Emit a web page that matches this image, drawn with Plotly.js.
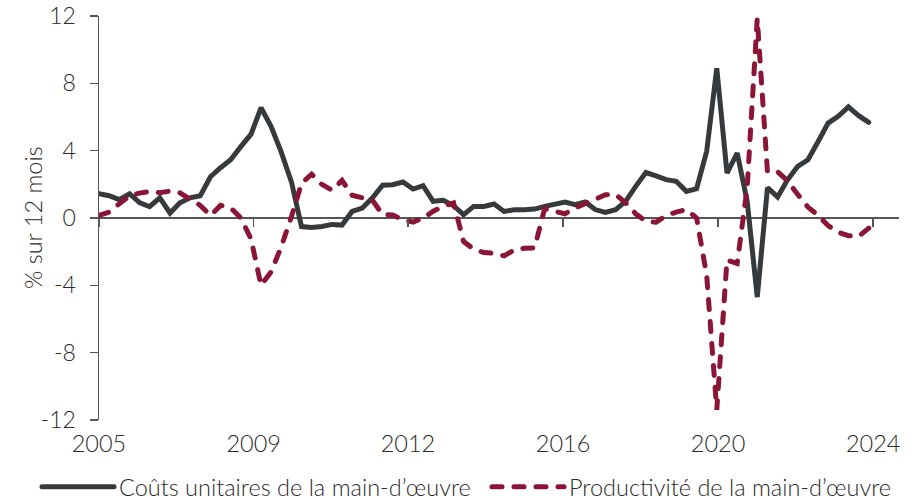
<!DOCTYPE html>
<html>
<head>
<meta charset="utf-8">
<script src="https://cdn.plot.ly/plotly-3.0.1.min.js"></script>
<style>
  html, body { margin: 0; padding: 0; background: #fff; }
  #chart { width: 922px; height: 503px; }
</style>
</head>
<body>
<div id="chart"></div>
<script>
// Quarterly data, 2005T1 – 2024T1 (% sur 12 mois)
const firstYear = 2005;
const seriesNames = ["Coûts unitaires de la main-d\u2019œuvre", "Productivité de la main-d\u2019œuvre"];
const yTitle = "% sur 12 mois";

const coutsUnitaires = [
  1.44, 1.32, 1.09, 1.44, 0.91, 0.67, 1.2, 0.3, 0.9, 1.2,
  1.32, 2.45, 2.99, 3.46, 4.24, 4.98, 6.55, 5.43, 3.9, 2.12,
  -0.51, -0.56, -0.5, -0.38, -0.42, 0.39, 0.59, 1.2, 1.95, 1.98,
  2.14, 1.72, 1.92, 0.99, 1.05, 0.73, 0.2, 0.69, 0.69, 0.83,
  0.39, 0.49, 0.49, 0.53, 0.69, 0.79, 0.95, 0.79, 0.95, 0.5,
  0.33, 0.49, 0.99, 1.88, 2.7, 2.5, 2.28, 2.18, 1.58, 1.74,
  3.96, 8.9, 2.67, 3.86, 1.0, -4.7, 1.8, 1.25, 2.28, 3.07,
  3.46, 4.55, 5.64, 6.04, 6.6, 6.08, 5.68
];

const productivite = [
  0.15, 0.35, 0.85, 1.3, 1.48, 1.58, 1.5, 1.6, 1.5, 1.15,
  0.75, 0.15, 0.75, 0.6, 0.0, -1.25, -4.0, -3.2, -1.7, 0.1,
  2.05, 2.6, 2.0, 1.65, 2.23, 1.35, 1.2, 1.05, 0.2, 0.18,
  -0.1, -0.25, 0.0, 0.4, 0.7, 0.9, -1.4, -1.85, -2.05, -2.1,
  -2.25, -1.9, -1.8, -1.78, 0.55, 0.4, 0.25, 0.6, 0.85, 1.15,
  1.38, 1.4, 0.9, 0.25, -0.2, -0.25, 0.15, 0.35, 0.5, 0.0,
  -3.4, -11.4, -2.5, -2.7, 1.8, 11.85, 2.75, 2.75, 2.2, 1.4,
  0.65, 0.15, -0.45, -0.85, -1.05, -1.1, -0.6
];

const tickLabels = ["2005", "2009", "2012", "2016", "2020", "2024"];
const tickDates = ["2005-03-31", "2009-01-24", "2012-11-15", "2016-09-13", "2020-07-12", "2024-05-10"];
const yTicks = [-12, -8, -4, 0, 4, 8, 12];
const yTickLabels = ["-12", "-8", "-4", "0", "4", "8", "12"];

// quarter-end dates for the x categories
const quarterEnds = ["03-31", "06-30", "09-30", "12-31"];
const dates = coutsUnitaires.map((_, i) =>
  (firstYear + Math.floor(i / 4)) + "-" + quarterEnds[i % 4]);

const FONT = "Lato, 'Open Sans', sans-serif";
const TXT = "#2b2b2b";
const AX = "#555555";
const xRange = ["2005-03-31", "2024-12-29"];
const f = (s) => ({ family: FONT, size: s, color: TXT, weight: 300 });

const traces = [
  {
    x: dates, y: coutsUnitaires, name: seriesNames[0],
    type: "scatter", mode: "lines",
    line: { color: "#363a3d", width: 5 },
    xaxis: "x", yaxis: "y", hoverinfo: "skip", legend: "legend"
  },
  {
    x: dates, y: productivite, name: seriesNames[1],
    type: "scatter", mode: "lines",
    line: { color: "#8a1536", width: 5, dash: "10px,12px" },
    xaxis: "x2", yaxis: "y", hoverinfo: "skip", legend: "legend2"
  }
];

const legendBase = {
  orientation: "h", xref: "container", yref: "container", xanchor: "left", yanchor: "middle",
  y: 1 - 487 / 503, font: f(23.5), itemwidth: 72, bgcolor: "rgba(0,0,0,0)", borderwidth: 0
};

const layout = {
  width: 922, height: 503,
  margin: { l: 99, r: 23, t: 16, b: 83, autoexpand: false },
  paper_bgcolor: "#ffffff", plot_bgcolor: "#ffffff",
  font: f(23.5),
  showlegend: true,
  legend: Object.assign({}, legendBase, { x: 37 / 922 }),
  legend2: Object.assign({}, legendBase, { x: 487 / 922 }),
  xaxis: {
    type: "date", range: xRange,
    tickvals: tickDates, ticktext: tickLabels,
    showline: false, ticks: "", showgrid: false, zeroline: false,
    tickfont: f(23.5), ticklabelstandoff: 7, fixedrange: true
  },
  xaxis2: {
    type: "date", range: xRange, overlaying: "x", anchor: "free", position: 0.5,
    tickvals: tickDates, showticklabels: false,
    showline: false, ticks: "outside", ticklen: 8, tickwidth: 1.5, tickcolor: AX,
    showgrid: false, zeroline: false, fixedrange: true
  },
  yaxis: {
    range: [-12, 12], tickvals: yTicks, ticktext: yTickLabels,
    showline: true, linecolor: AX, linewidth: 1.5,
    ticks: "outside", ticklen: 8, tickwidth: 1.5, tickcolor: AX,
    showgrid: false, zeroline: true, zerolinecolor: AX, zerolinewidth: 1.5,
    tickfont: f(23), ticklabelstandoff: 9,
    fixedrange: true
  },
  annotations: [{
    text: yTitle, xref: "paper", yref: "paper", x: (33 - 99) / 800, y: 0.5,
    xanchor: "center", yanchor: "middle", textangle: -90, showarrow: false, font: f(23.5)
  }]
};

Plotly.newPlot("chart", traces, layout, { displayModeBar: false, staticPlot: true }).then(() => {
  document.querySelectorAll(".scatterlayer path.js-line, .legendlines path").forEach(p => {
    p.style.strokeLinecap = "round";
  });
  document.querySelectorAll(".legend [clip-path], .legend").forEach(el => el.removeAttribute("clip-path"));
});
</script>
</body>
</html>
